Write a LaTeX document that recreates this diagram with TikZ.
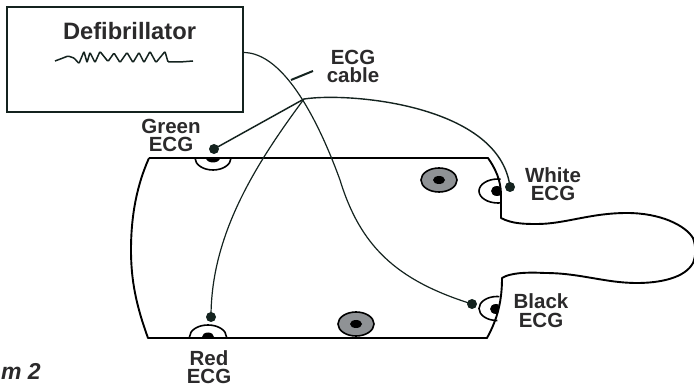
\documentclass[tikz,border=0pt]{standalone}
\usepackage{fontspec}
\setmainfont{Liberation Sans}
\definecolor{ink}{HTML}{2B2A2B}
\definecolor{wire}{HTML}{14231F}
\definecolor{padgray}{HTML}{8F9295}
\tikzset{
  outline/.style={draw=black,line width=1.9pt,line join=round},
  wirestyle/.style={draw=wire,line width=1.2pt},
  dotnode/.style={circle,fill=wire,inner sep=0pt,minimum size=10pt},
  label/.style={text=ink,font=\bfseries\fontsize{20.5}{18.5}\selectfont,align=center,inner sep=0pt},
  padring/.style={draw=black,line width=1.6pt,fill=white},
  padcore/.style={fill=black,draw=none},
}
\begin{document}
\begin{tikzpicture}[x=1pt,y=-1pt]
\useasboundingbox (0,0) rectangle (694,390);
% snap pads
\begin{scope}
\clip (180,158) rectangle (245,180);
\draw[padring] (213,158) ellipse [x radius=18,y radius=12];
\fill[padcore] (213,158) ellipse [x radius=7,y radius=4.5];
\end{scope}
\begin{scope}
\clip (180,320) rectangle (240,337);
\draw[padring] (208,337) ellipse [x radius=18.5,y radius=12];
\fill[padcore] (208,337) ellipse [x radius=6,y radius=4.5];
\end{scope}
\begin{scope}
\clip (470,170) rectangle (500.5,210);
\draw[padring] (498,191) ellipse [x radius=19,y radius=12];
\fill[padcore] (497,191) ellipse [x radius=6,y radius=5];
\end{scope}
\begin{scope}
\clip (470,290) -- (500,290) -- (497,325) -- (470,325) -- cycle;
\draw[padring] (497,308.5) ellipse [x radius=18,y radius=12];
\fill[padcore] (496,309) ellipse [x radius=6,y radius=5];
\end{scope}
% patient outline
\draw[outline] (149,158) -- (488,158)
  .. controls (495,168) and (501,180) .. (501,195) -- (501,218)
  .. controls (512,224) and (526,224) .. (537,224)
  .. controls (565,224) and (590,213) .. (627,213)
  .. controls (660,213) and (685,225) .. (693,238)
  .. controls (696,246) and (696,256) .. (693,263)
  .. controls (685,278) and (660,283) .. (637,283)
  .. controls (605,283) and (580,273) .. (545,273)
  .. controls (525,272) and (510,273) .. (502,278)
  .. controls (502,300) and (498,318) .. (487,338) -- (148,338)
  .. controls (136,305) and (131,280) .. (131,250)
  .. controls (131,215) and (137,185) .. (149,158);
\draw[black,line width=1.6pt,fill=padgray] (439,180) ellipse [x radius=18,y radius=12];
\fill[padcore] (439,180) ellipse [x radius=6,y radius=4];
\draw[black,line width=1.6pt,fill=padgray] (356,324) ellipse [x radius=18,y radius=12];
\fill[padcore] (356,324) ellipse [x radius=6,y radius=4];
% defibrillator
\node[draw=wire,line width=2pt,fill=white,minimum width=236pt,minimum height=105pt,inner sep=0pt,anchor=north west] (defib) at (6,6) {};
\node[text=ink,font=\bfseries\fontsize{23.7}{26}\selectfont,inner sep=0pt] (title) at (129.5,31) {Defibrillator};
\draw[wire,line width=1.5pt,rounded corners=1pt] (55,61) -- (63,58) -- (68,56) -- (74,58) -- (79,63.5) -- (84,51.5) -- (87,62.5) -- (90,52.5) -- (95,62.5) -- (100,51.5) -- (108,61.5) -- (114,53) -- (120,62.5) -- (127,52.5) -- (133,62.5) -- (139,52.5) -- (144,62.5) -- (150,51.5) -- (156,62.5) -- (165,51.5) -- (168,62) -- (180,62) -- (193,61);
% leads
\coordinate (hub) at (304,99);
\coordinate (outlet) at (243,52.5);
\node[dotnode] (green) at (214,149) {};
\node[dotnode] (red) at (211,317) {};
\node[dotnode] (white) at (510,187) {};
\node[dotnode] (black) at (472,304) {};
\draw[wirestyle] (outlet) .. controls (285,52) and (320,125) .. (340,180)
  .. controls (360,245) and (395,280) .. (black.center);
\draw[wirestyle,line width=1.5pt] (hub) -- (green.center);
\draw[wirestyle] (hub) .. controls (255,165) and (211,235) .. (red.center);
\draw[wirestyle,line width=1.4pt] (hub) .. controls (350,92) and (500,105) .. (white.center);
% labels
\coordinate (tickA) at (291,80);
\coordinate (tickB) at (313,71);
\draw[wire,line width=2pt] (tickA) -- (tickB);
\node[label] (cable) at (353,66.5) {ECG\\cable};
\node[label] (lgreen) at (171,135.5) {Green\\ECG};
\node[label] (lred) at (209,367) {Red\\ECG};
\node[label] (lwhite) at (553,184) {White\\ECG};
\node[label] (lblack) at (541,310.5) {Black\\ECG};
\node[text=ink,font=\bfseries\itshape\fontsize{23}{26}\selectfont,inner sep=0pt,anchor=base east] (fig) at (41,379) {m 2};
\end{tikzpicture}
\end{document}
